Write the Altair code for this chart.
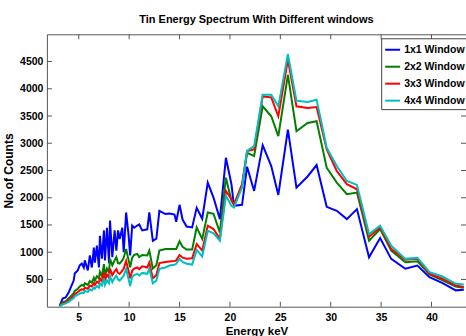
import altair as alt
import pandas as pd

energy = [3.1,3.4,3.7,4.0,4.2,4.5,4.6,4.9,5.1,5.3,
          5.5,5.6,5.9,6.1,6.3,6.5,6.6,6.8,7.0,7.1,
          7.3,7.5,7.6,7.8,8.0,
          8.1,8.33,8.56,8.73,8.9,9.06,9.32,9.46,9.7,9.95,
          10.1,10.3,10.5,10.8,11.0,11.3,11.8,12.0,12.35,12.7,
          13.0,13.6,14.0,14.5,14.67,15.0,15.3,15.7,16.25,16.7,
          17.25,17.8,18.37,19.0,19.6,20.15,20.4,21.2,21.7,22.4,
          23.25,24.1,24.8,25.75,26.6,27.7,28.6,29.6,30.6,31.6,
          32.6,33.8,34.9,36.0,37.4,38.6,39.8,41.1,42.4,43.2]

w1 = [10,150,170,260,350,480,610,665,760,790,
      720,850,665,940,720,1085,810,1120,720,1300,
      880,1400,850,1450,800,
      1580,910,1400,1030,1400,1240,1450,1000,1730,1300,
      940,1490,1450,1490,1510,1400,1420,1730,1210,1250,
      1760,1700,1710,1690,1560,1870,1600,1470,1456,1815,
      1614,2277,2003,1608,2734,2248,1852,1870,2570,2125,
      2965,2582,2052,3252,2186,2390,2600,1833,1760,1608,
      1791,907,1262,878,696,756,542,434,300,312]

w2 = [20,80,100,150,190,250,290,330,370,400,
      380,430,400,470,440,530,480,560,520,640,
      560,780,580,700,620,
      880,760,850,910,800,790,850,900,1060,850,
      725,900,950,970,910,950,940,1030,700,760,
      1030,1060,1060,1060,1060,1200,1100,1050,1048,1455,
      1243,1730,1705,1364,2368,1943,1883,2217,2825,2765,
      3678,3495,3130,4256,3221,3373,3404,2551,2277,2065,
      2094,1212,1426,1030,816,834,592,482,372,348]

w3 = [10,60,80,120,150,200,230,270,300,320,
      310,350,330,390,370,430,400,460,430,520,
      470,640,480,590,530,
      700,580,650,690,620,600,660,700,840,650,
      520,660,700,720,690,740,720,810,520,580,
      800,820,830,840,850,950,900,880,890,1152,
      1030,1486,1426,1243,2125,1974,1870,2248,2856,2887,
      3860,3842,3495,4530,3678,3647,3665,2887,2491,2248,
      2156,1285,1456,1061,860,878,604,513,390,360]

w4 = [5,40,60,90,120,160,190,220,240,260,
      250,290,270,320,300,350,330,380,350,430,
      390,520,400,480,430,
      560,450,530,570,500,480,540,570,695,500,
      380,543,580,604,573,620,604,695,430,480,
      695,720,756,770,787,878,820,790,774,1043,
      920,1395,1346,1212,2034,1852,1821,2186,2860,2947,
      3891,3891,3678,4633,3782,3756,3800,2917,2582,2308,
      2235,1335,1486,1121,878,896,634,554,420,409]

series_names = ["1x1 Window", "2x2 Window", "3x3 Window", "4x4 Window"]
series_colors = ["#0000FF", "#008000", "#FF0000", "#00BFBF"]
x_ticks = [5, 10, 15, 20, 25, 30, 35, 40]
y_ticks = [500, 1000, 1500, 2000, 2500, 3000, 3500, 4000, 4500]

rows = []
for k, (name, vals) in enumerate(zip(series_names, [w1, w2, w3, w4])):
    for e, c in zip(energy, vals):
        rows.append({"energy": e, "counts": c, "series": name, "order": k})
df = pd.DataFrame(rows)
xt = pd.DataFrame({"energy": x_ticks})
yt = pd.DataFrame({"counts": y_ticks})

W, H = 420, 273
FONT = "Liberation Sans"

xscale = alt.Scale(domain=[1.84, 43.42], nice=False, zero=False)
yscale = alt.Scale(domain=[0, 5000], nice=False)

xaxis = alt.Axis(values=x_ticks, title="Energy keV", grid=False, ticks=False,
                 domain=False, labelPadding=6, titlePadding=2, format="d",
                 labelOverlap=False)
yaxis = alt.Axis(values=y_ticks, title="No.of Counts", grid=False, ticks=False,
                 domain=False, labelPadding=4, titlePadding=4, format="d",
                 labelOverlap=False)

lines = alt.Chart(df).mark_line(strokeWidth=2, clip=True).encode(
    x=alt.X("energy:Q", scale=xscale, axis=xaxis),
    y=alt.Y("counts:Q", scale=yscale, axis=yaxis),
    color=alt.Color("series:N",
                    scale=alt.Scale(domain=series_names, range=series_colors),
                    legend=alt.Legend(title=None, orient="none", legendX=335, legendY=4,
                                      symbolType="stroke", symbolStrokeWidth=2, symbolSize=225,
                                      labelFont=FONT, labelFontSize=10.5, labelFontWeight="bold",
                                      labelColor="#000", labelOffset=3, rowPadding=3,
                                      padding=3, strokeColor="#444", fillColor="white")),
    order=alt.Order("order:Q"),
)

tick_col = "#555"
bot = alt.Chart(xt).mark_rule(color=tick_col).encode(
    x=alt.X("energy:Q", scale=xscale, axis=xaxis), y=alt.value(H), y2=alt.value(H - 5))
top = alt.Chart(xt).mark_rule(color=tick_col).encode(
    x=alt.X("energy:Q", scale=xscale, axis=xaxis), y=alt.value(0), y2=alt.value(5))
left = alt.Chart(yt).mark_rule(color=tick_col).encode(
    y=alt.Y("counts:Q", scale=yscale, axis=yaxis), x=alt.value(0), x2=alt.value(5))
right = alt.Chart(yt).mark_rule(color=tick_col).encode(
    y=alt.Y("counts:Q", scale=yscale, axis=yaxis), x=alt.value(W), x2=alt.value(W - 5))

chart = alt.layer(lines, bot, top, left, right).properties(
    width=W, height=H,
    title=alt.Title("Tin Energy Spectrum With Different windows", font=FONT, fontSize=11,
                    fontWeight="bold", color="#000", anchor="middle", offset=9),
    padding={"left": 47, "top": 34, "right": 0, "bottom": 29},
    autosize=alt.AutoSizeParams(type="none"),
).configure_view(stroke="#555", strokeWidth=1).configure_axis(
    labelFont=FONT, labelFontSize=10.5, labelFontWeight="bold", labelColor="#000",
    titleFont=FONT, titleFontSize=12, titleFontWeight="bold", titleColor="#000",
    labelOverlap=False,
).configure_axisX(titleFontSize=11.5)

chart.save("out.html", embed_options={"renderer": "svg", "actions": False})
